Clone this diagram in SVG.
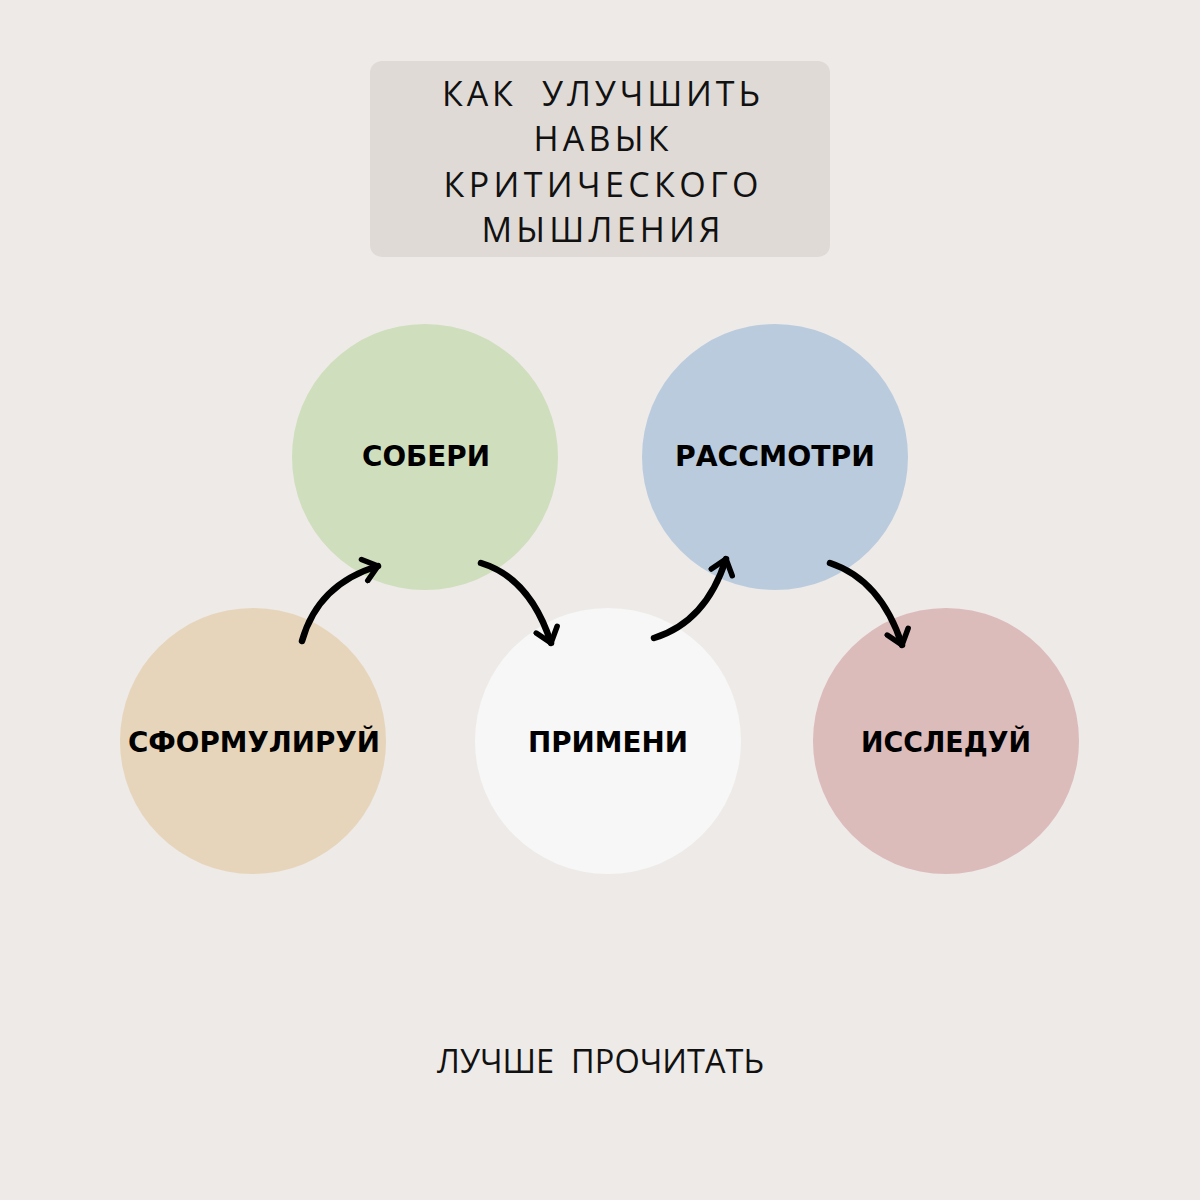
<svg xmlns="http://www.w3.org/2000/svg" width="1200" height="1200" viewBox="0 0 1200 1200">
<style>
.title{font-family:"Open Sans","DejaVu Sans",sans-serif;font-size:34px;fill:#111;text-anchor:middle}
.lbl{font-family:"DejaVu Sans","Noto Sans",sans-serif;font-weight:bold;font-size:29px;fill:#000;text-anchor:middle}
.bot{font-family:"Open Sans","DejaVu Sans",sans-serif;font-size:32.5px;fill:#111;text-anchor:middle}
.arr{fill:none;stroke:#000;stroke-width:6.5;stroke-linecap:round;stroke-linejoin:round}
</style>
<defs>
<marker id="ah" viewBox="-18 -14 20 28" refX="0" refY="0" markerWidth="20" markerHeight="28" markerUnits="userSpaceOnUse" orient="auto">
<path d="M-14,-11 L0,0 L-14,11" fill="none" stroke="#000" stroke-width="5.5" stroke-linecap="round" stroke-linejoin="round"/>
</marker>
</defs>
<rect width="1200" height="1200" fill="#eeeae7"/>
<g id="title">
<rect x="370" y="61" width="460" height="196" rx="12" fill="#dfdad6"/>
<text class="title" x="601" y="106" xml:space="preserve" textLength="318" lengthAdjust="spacing">КАК  УЛУЧШИТЬ</text>
<text class="title" x="601" y="151" textLength="135" lengthAdjust="spacing">НАВЫК</text>
<text class="title" x="601" y="197" textLength="315" lengthAdjust="spacing">КРИТИЧЕСКОГО</text>
<text class="title" x="601" y="242" textLength="239" lengthAdjust="spacing">МЫШЛЕНИЯ</text>
</g>
<g id="node-sobery">
<circle cx="425" cy="457" r="133" fill="#cfdebc"/>
<text class="lbl" x="426" y="466" textLength="128" lengthAdjust="spacingAndGlyphs">СОБЕРИ</text>
</g>
<g id="node-rassmotri">
<circle cx="775" cy="457" r="133" fill="#bacbde"/>
<text class="lbl" x="775" y="466" textLength="200" lengthAdjust="spacingAndGlyphs">РАССМОТРИ</text>
</g>
<g id="node-sformuliruy">
<circle cx="253" cy="741" r="133" fill="#e6d5bb"/>
<text class="lbl" x="254" y="752" textLength="252" lengthAdjust="spacingAndGlyphs">СФОРМУЛИРУЙ</text>
</g>
<g id="node-primeni">
<circle cx="608" cy="741" r="133" fill="#f7f7f7"/>
<text class="lbl" x="608" y="752" textLength="160" lengthAdjust="spacingAndGlyphs">ПРИМЕНИ</text>
</g>
<g id="node-issleduy">
<circle cx="946" cy="741" r="133" fill="#dcbbbb"/>
<text class="lbl" x="946" y="752" textLength="170" lengthAdjust="spacingAndGlyphs">ИССЛЕДУЙ</text>
</g>
<g id="connectors">
<path class="arr" d="M302,641 Q318,584 378,566" marker-end="url(#ah)"/>
<path class="arr" d="M481,563 Q530,578 551,643" marker-end="url(#ah)"/>
<path class="arr" d="M654,638 Q706,622 726,559" marker-end="url(#ah)"/>
<path class="arr" d="M830,563 Q881,580 902,645" marker-end="url(#ah)"/>
</g>
<text class="bot" x="600.5" y="1073" xml:space="preserve" textLength="327" lengthAdjust="spacing">ЛУЧШЕ  ПРОЧИТАТЬ</text>
</svg>
